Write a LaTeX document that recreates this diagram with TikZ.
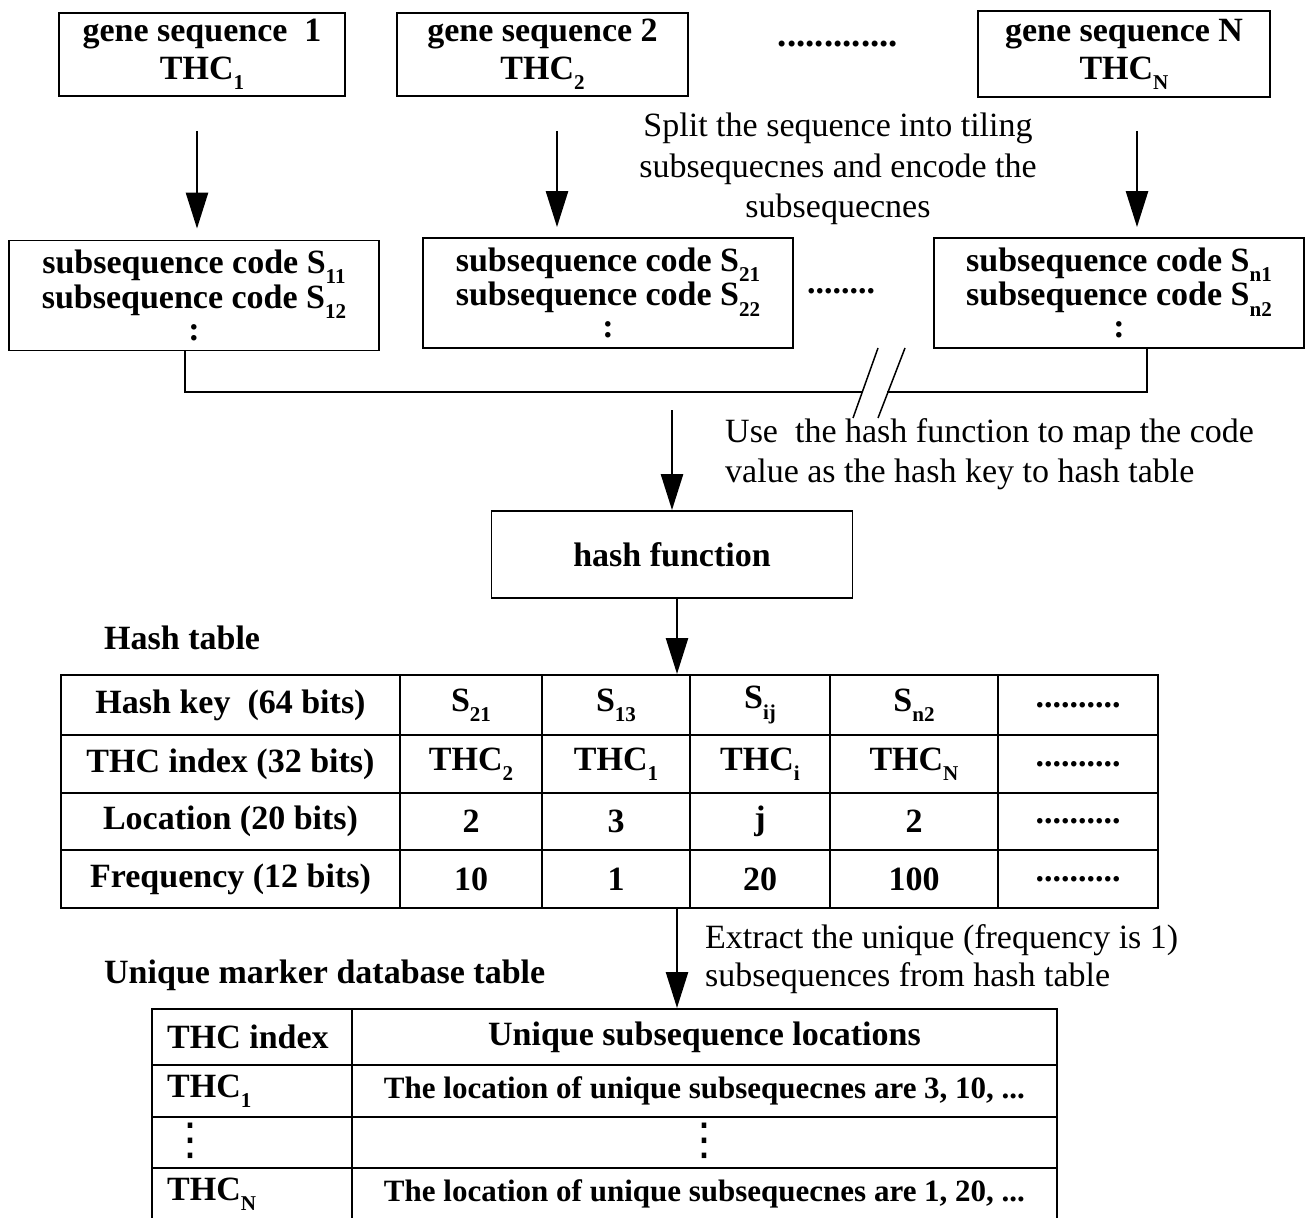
\documentclass[tikz,border=0pt]{standalone}
\usepackage{fontspec}
\setmainfont{Liberation Serif}
\newfontfamily\dejavu{DejaVu Sans}
\usetikzlibrary{arrows.meta}
\makeatletter
\newcommand\sbs[1]{\raisebox{-0.3em}{\fontsize{\the\dimexpr 0.62\dimexpr\f@size pt\relax\relax}{1pt}\selectfont #1}}
\makeatother
\begin{document}
\begin{tikzpicture}[x=1pt,y=-1pt,
  box/.style={draw, line width=1.8pt, align=center, inner sep=0pt, font=\bfseries\fontsize{34}{38}\selectfont},
  subbox/.style={draw, line width=1.8pt, align=center, inner sep=0pt, minimum width=370pt, minimum height=110pt, font=\bfseries\fontsize{34}{33}\selectfont},
  arr/.style={line width=2.6pt, -{Triangle[length=36pt,width=22pt]}},
  plain/.style={font=\fontsize{34}{40.5}\selectfont, inner sep=0pt},
  bold/.style={font=\bfseries\fontsize{34}{39}\selectfont, inner sep=0pt},
  vdts/.style={font=\dejavu\fontsize{44}{44}\selectfont, inner sep=0pt},
  cell/.style={draw, line width=2pt, inner sep=0pt, font=\bfseries\fontsize{34}{38}\selectfont},
  small/.style={font=\bfseries\fontsize{31}{34}\selectfont},
  cA/.style={minimum width=339pt}, cB/.style={minimum width=142pt},
  cC/.style={minimum width=148pt}, cD/.style={minimum width=140pt},
  cE/.style={minimum width=168pt}, cF/.style={minimum width=160pt},
  rA/.style={minimum height=60pt}, rB/.style={minimum height=58pt},
  rC/.style={minimum height=57pt}, rD/.style={minimum height=58pt},
  uA/.style={minimum width=200pt}, uB/.style={minimum width=705pt}
]
\useasboundingbox (0,0) rectangle (1305,1217);

% gene sequence boxes
\node[box, minimum width=286pt, minimum height=83pt] (g1) at (202,54.5) {gene sequence\ \ 1\\THC\sbs{1}};
\node[box, minimum width=291pt, minimum height=83pt] (g2) at (542.5,54.5) {gene sequence 2\\THC\sbs{2}};
\node[box, minimum width=292pt, minimum height=86pt] (gN) at (1124,54) {gene sequence N\\THC\sbs{N}};
\node[bold, font=\bfseries\fontsize{37}{39}\selectfont] (d1) at (838,44) {.............};

% split text
\node[plain, align=center] (split) at (838,169) {Split the sequence into tiling\\subsequecnes and encode the\\subsequecnes};

% subsequence boxes
\node[subbox] (s1) at (194,295.5) {subsequence code S\sbs{11}\\subsequence code S\sbs{12}\\[-1pt]:};
\node[subbox] (s2) at (608,293) {subsequence code S\sbs{21}\\subsequence code S\sbs{22}\\[-1pt]:};
\node[subbox] (sN) at (1119,293) {subsequence code S\sbs{n1}\\subsequence code S\sbs{n2}\\[-1pt]:};
\node[bold] (d2) at (841,291) {........};

% arrows top
\draw[arr, shorten <=34pt, shorten >=11pt] ([xshift=-5pt]g1.south) -- ([xshift=-5pt]g1.south |- s1.north);
\draw[arr, shorten <=34pt, shorten >=10pt] ([xshift=14.5pt]g2.south) -- ([xshift=14.5pt]g2.south |- s2.north);
\draw[arr, shorten <=33pt, shorten >=10pt] ([xshift=13pt]gN.south) -- ([xshift=13pt]gN.south |- sN.north);

% bracket with break marks
\coordinate (bl) at (185,392);
\coordinate (br) at (1147,392);
\coordinate (gapl) at (862,392);
\coordinate (gapr) at (887,392);
\draw[line width=2.8pt] (s1.south -| bl) -- (bl) -- (gapl);
\draw[line width=2.8pt] (gapr) -- (br) -- (sN.south -| br);
\coordinate (sl1a) at (878,348); \coordinate (sl1b) at (853,418);
\coordinate (sl2a) at (905,348); \coordinate (sl2b) at (878,418);
\draw[line width=1.5pt] (sl1a) -- (sl1b);
\draw[line width=1.5pt] (sl2a) -- (sl2b);

% hash function
\node[box, minimum width=361pt, minimum height=87pt] (hf) at (672,554.5) {hash function};
\coordinate (bk) at (672,410);
\draw[arr] (bk) -- (hf.north);
\node[plain, align=left, anchor=west, font=\fontsize{34}{39.5}\selectfont] (usetxt) at (725,454) {Use\ \ the hash function to map the code\\value as the hash key to hash table};

% hash table
\node[bold, anchor=west] (htitle) at (104,638) {Hash table};
\node[cell,cA,rA] (t11) at (230.5,705) {Hash key\ \ (64 bits)};
\node[cell,cB,rA] (t12) at (471,705) {S\sbs{21}};
\node[cell,cC,rA] (t13) at (616,705) {S\sbs{13}};
\node[cell,cD,rA] (t14) at (760,705) {S\sbs{ij}};
\node[cell,cE,rA] (t15) at (914,705) {S\sbs{n2}};
\node[cell,cF,rA] (t16) at (1078,705) {..........};
\node[cell,cA,rB] (t21) at (230.5,764) {THC index (32 bits)};
\node[cell,cB,rB] (t22) at (471,764) {THC\sbs{2}};
\node[cell,cC,rB] (t23) at (616,764) {THC\sbs{1}};
\node[cell,cD,rB] (t24) at (760,764) {THC\sbs{i}};
\node[cell,cE,rB] (t25) at (914,764) {THC\sbs{N}};
\node[cell,cF,rB] (t26) at (1078,764) {..........};
\node[cell,cA,rC] (t31) at (230.5,821.5) {Location (20 bits)};
\node[cell,cB,rC] (t32) at (471,821.5) {2};
\node[cell,cC,rC] (t33) at (616,821.5) {3};
\node[cell,cD,rC] (t34) at (760,821.5) {j};
\node[cell,cE,rC] (t35) at (914,821.5) {2};
\node[cell,cF,rC] (t36) at (1078,821.5) {..........};
\node[cell,cA,rD] (t41) at (230.5,879) {Frequency (12 bits)};
\node[cell,cB,rD] (t42) at (471,879) {10};
\node[cell,cC,rD] (t43) at (616,879) {1};
\node[cell,cD,rD] (t44) at (760,879) {20};
\node[cell,cE,rD] (t45) at (914,879) {100};
\node[cell,cF,rD] (t46) at (1078,879) {..........};

\draw[arr] ([xshift=5pt]hf.south) -- ([xshift=5pt]hf.south |- t11.north);

% extraction
\node[plain, align=left, anchor=west, font=\fontsize{34}{38.5}\selectfont] (extxt) at (705,959) {Extract the unique (frequency is 1)\\subsequences from hash table};
\node[bold, anchor=west] (utitle) at (104,975) {Unique marker database table};

% unique table
\node[cell,uA,minimum height=56pt] (u11) at (252,1037) {};
\node[cell,uB,minimum height=56pt] (u12) at (704.5,1037) {Unique subsequence locations};
\node[cell,uA,minimum height=52pt] (u21) at (252,1091) {};
\node[cell,uB,minimum height=52pt,small] (u22) at (704.5,1091) {The location of unique subsequecnes are 3, 10, ...};
\node[cell,uA,minimum height=51pt] (u31) at (252,1142.5) {};
\node[cell,uB,minimum height=51pt] (u32) at (704.5,1142.5) {};
\node[cell,uA,minimum height=52pt] (u41) at (252,1194) {};
\node[cell,uB,minimum height=52pt,small] (u42) at (704.5,1194) {The location of unique subsequecnes are 1, 20, ...};
\node[bold, anchor=west] (u11t) at (167,1037) {THC index};
\node[bold, anchor=west] (u21t) at (167,1091) {THC\sbs{1}};
\node[vdts] (u31t) at (190,1141) {⋮};
\node[vdts] (u32t) at (704,1141) {⋮};
\node[bold, anchor=west] (u41t) at (167,1194) {THC\sbs{N}};

\draw[arr] ([xshift=5pt]hf.south |- t41.south) -- ([xshift=5pt]hf.south |- u12.north);
\end{tikzpicture}
\end{document}
